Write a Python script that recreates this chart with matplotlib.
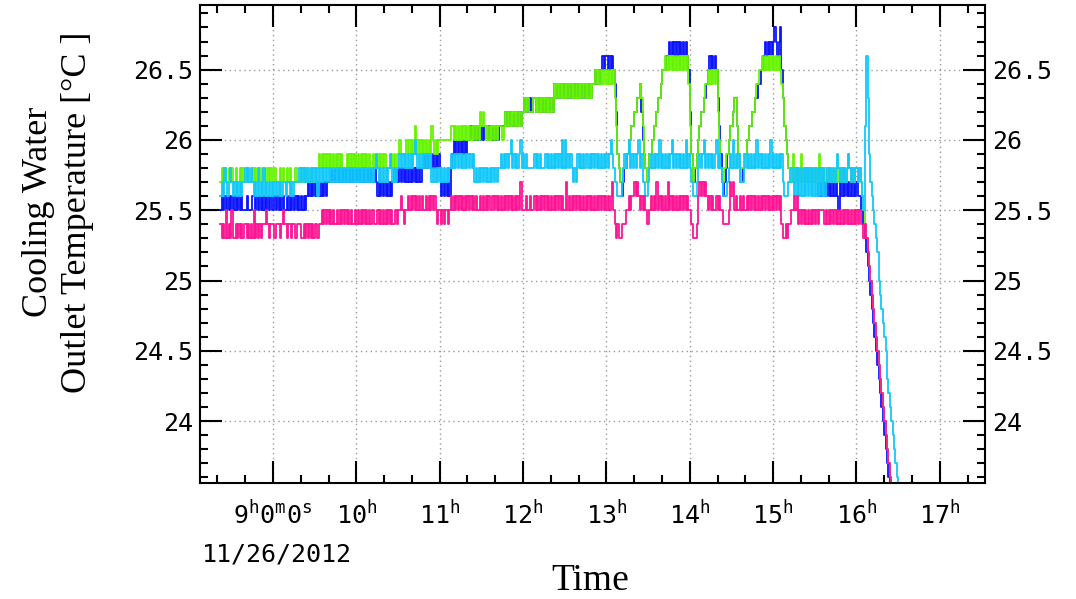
import matplotlib.pyplot as plt
import numpy as np
from matplotlib.ticker import MultipleLocator, FixedLocator, FixedFormatter, FormatStrFormatter

plt.rcParams['font.family'] = 'DejaVu Sans Mono'
plt.rcParams['mathtext.fontset'] = 'custom'
plt.rcParams['mathtext.rm'] = 'DejaVu Sans Mono'
plt.rcParams['mathtext.it'] = 'DejaVu Sans Mono'
plt.rcParams['mathtext.default'] = 'rm'

# one character per minute, starting 8:22; level = 25.0 + 0.1 * index in LEVELS
LEVELS = "0123456789abcdefghi"
start_hour = 8 + 22 / 60

pink_codes = [
    "4343534353" "3434343" "44" "343435343434" "4454344",
    "434443454434434434443" "3434343434434" "4545454545" "4454545454" "545445",
    "4545454545" "4554454545" "4545454" "454556545" "5656565656565" "56565656545",
    "545455456" "5656565656" "5" "65656565" "5" "65656565" "5" "6565656565656565656575",
    "55655655" "6565656565656565656565" "575" "656565656565656565656565656",
    "565675" "4343344" "455656" "67676" "5656" "544" "5656575656" "5657565656" "565656565",
    "54" "333" "46767676" "56565565655" "4444" "5767" "565565655" "6565656565656565656",
    "565656" "433434" "455656" "454545454545454" "5555" "45454545454545454545454",
]
green_codes = [
    "7878778787" "7877878778" "7778787787" "78778787",
    "7877787877" "8787778777" "8787877877" "78" "8989898989" "8" "98989898" "88" "9898989",
    "89898989898" "8" "9898989898" "888" "98989" "9a9999" "a9a9a9b9a9a9a9a9a9ba9a9a",
    "aaaaaaaab" "bababababa" "bababababa" "cbcbababab" "abab" "bbab" "cbcbcbcbcbcbc",
    "cdcdcccd" "dcdcdcdcdcdcdc" "ededededed" "ededededed" "edededede" "efefefef" "f",
    "efefef" "db987" "78899aabbccdde" "db987" "899abbcddeff" "gfgfgfgfgfgfgfgfg" "e",
    "b97" "889abccdee" "fefefef" "ca877" "899abbcdd" "b97" "8899aabbccdeeffg" "fgfgfgf",
    "gfgfgf" "edba987" "7978" "78797878" "78787878" "97878787" "87878787" "8787898" "7878",
]
blue_codes = [
    "56" "565656565656565" "5565556" "65656565656565",
    "5" "6565656" "556" "5656565656565" "6767676767676767" "78787878787878787878",
    "787878787878787" "67676767676" "7878787878787878787878" "898989898989",
    "867676768" "9a9a9a9a9a9a" "abababababab" "babababababbbbcbcbcbcbcbcbc",
    "cdcdcdcd" "dcdcdcdcdcdcdc" "ededededed" "ededededed" "edededede" "efefe" "fgfg",
    "gfgfgf" "ec9876" "7889aabbccdde" "ca987" "899abbcddeff" "fgg" "hghghghghghghg" "f",
    "c97" "789abccdde" "fgfgfgf" "db976" "789abbcdd" "b97" "7899aabbccddeeff" "ghghghg",
    "hihghi" "fdba987" "7777877777787777787" "676767676767676" "5" "767676767676",
]
cyan_codes = [
    "67687678767676767" "7878787" "67686768676767",
    "67676767" "7677676777" "7878787878" "7878687878" "7878787878" "787878787878",
    "787878787878789878787878987878" "898989898989a98989898989" "787878",
    "787878789" "8989898989898989" "787878787878787878" "89898989a898989a8",
    "98988888" "98989" "888" "9898989898" "98a8a89898" "7879898989" "98989898989898",
    "989a98" "776667" "8989a898989a89" "77667" "8989898a89898989a898989898a89",
    "8766678" "989a89898989a898" "76667" "898a8989" "777" "898989898a898989898a8",
    "9898989" "76667" "787" "68686868686868686868686" "7878787898787878987878",
]

# from 16:00 on, the fall after shutdown
pink_tail = [25.5, 25.4, 25.5, 25.4, 25.4, 25.3, 25.4, 25.3, 25.2, 25.1, 25.0, 24.9, 24.8,
             24.7, 24.6, 24.5, 24.4, 24.3, 24.2, 24.1, 24.0, 23.9, 23.8, 23.7, 23.6, 23.5]
green_tail = [25.8, 25.7, 25.8, 25.7, 25.6, 25.5, 25.4, 25.3, 25.2, 25.1, 25.0, 24.9, 24.8,
              24.7, 24.6, 24.5, 24.4, 24.3, 24.2, 24.1, 24.0, 23.9, 23.8, 23.7, 23.6, 23.5]
blue_tail = [25.7, 25.6, 25.6, 25.5, 25.5, 25.4, 25.3, 25.2, 25.1, 25.0, 24.9, 24.8, 24.7,
             24.6, 24.5, 24.4, 24.3, 24.2, 24.1, 24.0, 23.9, 23.8, 23.7, 23.6, 23.5]
cyan_tail = [25.8, 25.7, 25.8, 25.7, 25.6, 25.5, 26.1, 26.6, 26.3, 25.9, 25.7, 25.6, 25.5,
             25.4, 25.3, 25.2, 25.0, 24.9, 24.8, 24.7, 24.6, 24.5, 24.3, 24.2, 24.1, 24.0,
             23.9, 23.8, 23.7, 23.6, 23.5]

hour_ticks = [9, 10, 11, 12, 13, 14, 15, 16, 17]
hour_labels = ["$9^{h}0^{m}0^{s}$", "$10^{h}$", "$11^{h}$", "$12^{h}$", "$13^{h}$",
               "$14^{h}$", "$15^{h}$", "$16^{h}$", "$17^{h}$"]
temp_ticks = [24, 24.5, 25, 25.5, 26, 26.5]


def decode(codes, tail):
    s = "".join(codes)
    vals = [25.0 + 0.1 * LEVELS.index(c) for c in s] + list(tail)
    t = start_hour + np.arange(len(vals)) / 60.0
    return t, np.array(vals)


series = [
    (blue_codes, blue_tail, "#0a14ff"),
    (green_codes, green_tail, "#66f500"),
    (cyan_codes, cyan_tail, "#12c8fa"),
    (pink_codes, pink_tail, "#ff1493"),
]

fig = plt.figure(figsize=(10.76, 5.99), dpi=100)
ax = fig.add_axes([0.1859, 0.1937, 0.7296, 0.7980])

for codes, tail, col in series:
    t, v = decode(codes, tail)
    ax.plot(t, v, drawstyle="steps-post", color=col, lw=1.3)

ax.set_xlim(8.124, 17.544)
ax.set_ylim(23.56, 26.96)

ax.xaxis.set_major_locator(FixedLocator(hour_ticks))
ax.xaxis.set_major_formatter(FixedFormatter(hour_labels))
ax.xaxis.set_minor_locator(MultipleLocator(1 / 3))
ax.yaxis.set_major_locator(FixedLocator(temp_ticks))
ax.yaxis.set_major_formatter(FormatStrFormatter("%g"))
ax.yaxis.set_minor_locator(MultipleLocator(0.1))

ax.tick_params(which="both", direction="in", top=True, right=True, width=1.5,
               labelsize=18, labelright=True)
ax.tick_params(which="major", length=16)
ax.tick_params(which="minor", length=6)
ax.tick_params(axis="x", pad=13)
ax.tick_params(axis="y", pad=5)

for sp in ax.spines.values():
    sp.set_linewidth(1.5)

ax.grid(True, which="major", color="#999999", linestyle=(0, (1, 2.5)), lw=1.0)

fig.text(277 / 1076, 1 - 562 / 599, "11/26/2012", ha="center", va="baseline", fontsize=18)
fig.text(590 / 1076, 1 - 590 / 599, "Time", ha="center", va="baseline",
         fontsize=27, family="Liberation Serif")
fig.text(0.054, 0.646, "Cooling Water\nOutlet Temperature [°C ]", rotation=90,
         ha="center", va="center", multialignment="center", linespacing=1.25,
         fontsize=26, family="Liberation Serif")

fig.savefig("out.png", dpi=100)
